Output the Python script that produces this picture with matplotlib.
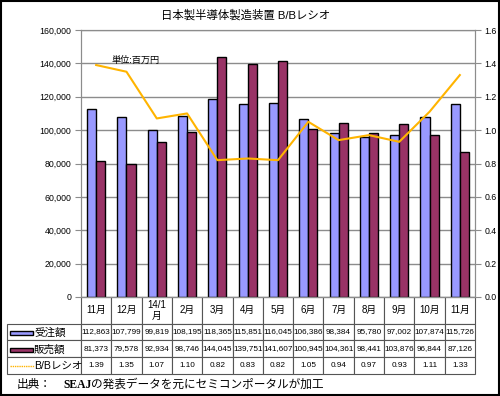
import matplotlib
matplotlib.use("Agg")
import matplotlib.pyplot as plt
from matplotlib.ticker import FuncFormatter, MultipleLocator
from matplotlib.patches import Rectangle
from matplotlib.lines import Line2D
import numpy as np

plt.rcParams['font.family'] = ['Liberation Sans', 'Noto Sans CJK JP', 'DejaVu Sans']

months = ["11月", "12月", "14/1\n月", "2月", "3月", "4月", "5月", "6月",
          "7月", "8月", "9月", "10月", "11月"]
orders = [112863, 107799, 99819, 108195, 118365, 115851, 116045, 106386,
          98384, 95780, 97002, 107874, 115726]
sales = [81373, 79578, 92934, 98746, 144045, 139751, 141607, 100945,
         104361, 98441, 103876, 96844, 87126]
bb_ratio = [1.39, 1.35, 1.07, 1.10, 0.82, 0.83, 0.82, 1.05,
            0.94, 0.97, 0.93, 1.11, 1.33]
row_names = ["受注額", "販売額", "B/Bレシオ"]

BLUE = "#9999FF"
MAROON = "#993366"
ORANGE = "#FFB400"
GRID = "#8c8c8c"

W, H = 500, 396
fig = plt.figure(figsize=(5, 3.96), dpi=100)


def fx(x):
    return x / W


def fy(y):
    return 1 - y / H


# plot area: x 81..475, y 30..297 (pixels)
ax = fig.add_axes([fx(81), fy(297), (475 - 81) / W, (297 - 30) / H])
x = np.arange(len(months))
ax.bar(x - 0.15, orders, width=0.3, color=BLUE, edgecolor="black", linewidth=1)
ax.bar(x + 0.15, sales, width=0.3, color=MAROON, edgecolor="black", linewidth=1)
ax.set_xlim(-0.5, len(months) - 0.5)
ax.set_ylim(0, 160000)
ax.yaxis.set_major_locator(MultipleLocator(20000))
ax.yaxis.set_major_formatter(FuncFormatter(lambda v, p: f"{v:,.0f}"))
ax.grid(axis="y", color=GRID, linewidth=1)
ax.set_axisbelow(True)
ax.set_xticks([])
ax.tick_params(axis="y", labelsize=6.3, length=4, color=GRID, pad=3)
for s in ax.spines.values():
    s.set_color(GRID)

ax2 = ax.twinx()
ax2.plot(x, bb_ratio, color=ORANGE, linewidth=1.5)
ax2.set_ylim(0, 1.6)
ax2.yaxis.set_major_locator(MultipleLocator(0.2))
ax2.yaxis.set_major_formatter(FuncFormatter(lambda v, p: f"{v:.1f}"))
ax2.tick_params(axis="y", labelsize=6.3, length=4, color=GRID, pad=3)
for s in ax2.spines.values():
    s.set_color(GRID)

# data table under the plot (bbox covers the data columns only)
cell_text = [[f"{v:,}" for v in orders],
             [f"{v:,}" for v in sales],
             [f"{v:.2f}" for v in bb_ratio]]
tbl = ax.table(cellText=cell_text, colLabels=months,
               colWidths=[1 / 13] * 13, cellLoc="center",
               bbox=[0, -(374 - 297) / 267, 1, (374 - 297) / 267])
for r in range(1, 4):
    tbl.add_cell(r, -1, width=74 / 394, height=17, text="")
tbl.auto_set_font_size(False)
for (r, c), cell in tbl.get_celld().items():
    cell.set_edgecolor("#555555")
    cell.set_linewidth(0.8)
    cell.PAD = 0.02
    if r == 0:
        cell.set_height(27)
        cell.get_text().set_fontsize(7)
        cell.get_text().set_linespacing(1.1)
    else:
        cell.set_height(17)
        cell.get_text().set_fontsize(5.9)

# row labels with legend keys
label_y = [333, 350, 366]
fig.add_artist(Rectangle((fx(10), fy(335)), (33 - 10) / W, 4.5 / H,
                         transform=fig.transFigure, facecolor=BLUE,
                         edgecolor="black", linewidth=1))
fig.add_artist(Rectangle((fx(10), fy(352)), (33 - 10) / W, 4.5 / H,
                         transform=fig.transFigure, facecolor=MAROON,
                         edgecolor="black", linewidth=1))
fig.add_artist(Line2D([fx(10), fx(34)], [fy(366), fy(366)],
                      transform=fig.transFigure, color=ORANGE,
                      linewidth=1, linestyle=(0, (1, 0.6))))
for name, yy in zip(row_names, label_y):
    fig.text(fx(34), fy(yy), name, fontsize=7.6, va="center", ha="left")

fig.text(fx(246), fy(15), "日本製半導体製造装置 B/Bレシオ", fontsize=8.2,
         ha="center", va="center")
fig.text(fx(111), fy(60), "単位:百万円", fontsize=6.6, ha="left", va="center")

# source line
t1 = fig.text(fx(17), fy(385), "出典：", fontsize=8.4, ha="left", va="center")
t2 = fig.text(fx(63), fy(385), "SEAJ", fontsize=8.4, ha="left", va="center",
              family="Liberation Serif", weight="bold")
ax.annotate("の発表データを元にセミコンポータルが加工", xy=(1, 0.5),
            xycoords=t2, va="center", ha="left", fontsize=8.4,
            annotation_clip=False)

fig.add_artist(Rectangle((0.002, 0.003), 0.995, 0.994, transform=fig.transFigure,
                         fill=False, edgecolor="black", linewidth=1.5))

plt.savefig("out.png", dpi=100)
